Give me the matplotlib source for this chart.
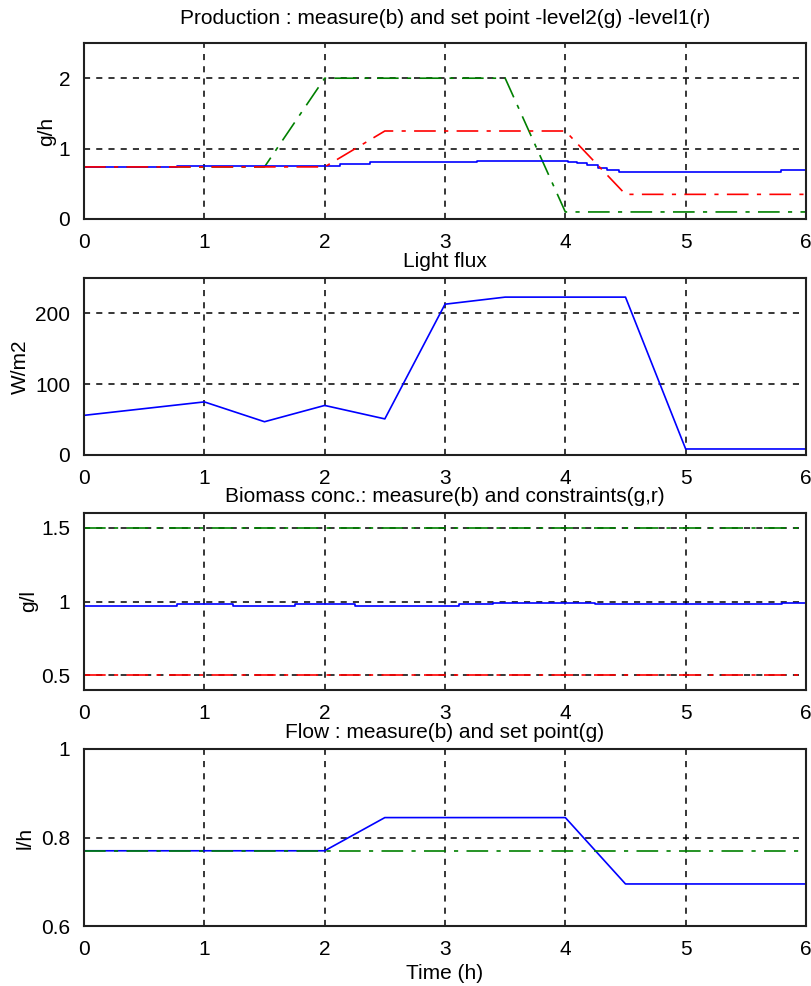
import matplotlib
matplotlib.use("Agg")
import matplotlib.pyplot as plt

plt.rcParams['font.family'] = ['Liberation Sans', 'DejaVu Sans']
plt.rcParams['font.size'] = 15

# ---- Data ----
# Production (g/h)
prod_meas_t = [0, 0.77, 2.13, 2.38, 3.27, 4.02, 4.10, 4.18, 4.27, 4.35, 4.45, 5.79, 6]
prod_meas_y = [0.74, 0.75, 0.78, 0.81, 0.83, 0.81, 0.79, 0.76, 0.73, 0.70, 0.67, 0.69, 0.69]
prod_lvl2_t = [0, 1.5, 2.0, 3.5, 4.0, 6.0]
prod_lvl2_y = [0.74, 0.74, 2.0, 2.0, 0.1, 0.1]
prod_lvl1_t = [0, 2.0, 2.5, 4.0, 4.5, 6.0]
prod_lvl1_y = [0.74, 0.74, 1.25, 1.25, 0.35, 0.35]

# Light flux (W/m2)
light_t = [0, 1, 1.5, 2, 2.5, 3, 3.5, 4, 4.5, 5, 6]
light_y = [56, 75, 47, 70, 51, 213, 223, 223, 223, 8.5, 8.5]

# Biomass conc. (g/l)
bio_t = [0, 0.77, 1.24, 1.75, 2.25, 3.12, 3.40, 4.25, 5.80, 6]
bio_y = [0.968, 0.982, 0.968, 0.980, 0.968, 0.980, 0.993, 0.980, 0.993, 0.993]
bio_max_t = [0, 6]
bio_max_y = [1.5, 1.5]
bio_min_t = [0, 6]
bio_min_y = [0.5, 0.5]

# Flow (l/h)
flow_t = [0, 2.0, 2.5, 4.0, 4.5, 6.0]
flow_y = [0.77, 0.77, 0.845, 0.845, 0.695, 0.695]
flow_sp_t = [0, 6]
flow_sp_y = [0.77, 0.77]

xticks = [0, 1, 2, 3, 4, 5, 6]

titles = ["Production : measure(b) and set point -level2(g) -level1(r)",
          "Light flux",
          "Biomass conc.: measure(b) and constraints(g,r)",
          "Flow : measure(b) and set point(g)"]
ylabels = ["g/h", "W/m2", "g/l", "l/h"]
ylims = [(0, 2.5), (0, 250), (0.4, 1.6), (0.6, 1.0)]
yticks = [[0, 1, 2], [0, 100, 200], [0.5, 1, 1.5], [0.6, 0.8, 1]]
yticklabels = [["0", "1", "2"], ["0", "100", "200"], ["0.5", "1", "1.5"], ["0.6", "0.8", "1"]]

W, H = 811, 986
fig = plt.figure(figsize=(W / 100, H / 100), dpi=100)
fig.patch.set_facecolor('white')

tops = [43, 278, 513, 749]
bots = [219, 455, 690, 926]
left, right = 84, 806
ylabel_x = [47, 20, 29, 25]

blue = '#0000ff'
green = '#008000'
red = '#ff0000'
dashdot = (0, (13, 5, 2.5, 5))
lw = 1.2

axes = []
for i in range(4):
    ax = fig.add_axes([left / W, 1 - bots[i] / H, (right - left) / W, (bots[i] - tops[i]) / H])
    axes.append(ax)

ax = axes[0]
ax.plot(prod_lvl2_t, prod_lvl2_y, color=green, lw=lw, linestyle=dashdot)
ax.plot(prod_meas_t, prod_meas_y, color=blue, lw=lw, drawstyle='steps-post')
ax.plot(prod_lvl1_t, prod_lvl1_y, color=red, lw=lw, linestyle=dashdot)

ax = axes[1]
ax.plot(light_t, light_y, color=blue, lw=lw)

ax = axes[2]
ax.plot(bio_t, bio_y, color=blue, lw=lw, drawstyle='steps-post')
ax.plot(bio_max_t, bio_max_y, color=green, lw=lw, linestyle=dashdot)
ax.plot(bio_min_t, bio_min_y, color=red, lw=lw, linestyle=dashdot)

ax = axes[3]
ax.plot(flow_t, flow_y, color=blue, lw=lw)
ax.plot(flow_sp_t, flow_sp_y, color=green, lw=lw, linestyle=dashdot)

for i, ax in enumerate(axes):
    ax.set_xlim(0, 6)
    ax.set_ylim(*ylims[i])
    ax.set_xticks(xticks)
    ax.set_xticklabels([str(x) for x in xticks])
    ax.set_yticks(yticks[i])
    ax.set_yticklabels(yticklabels[i])
    ax.grid(True, color='black', linestyle=(0, (4, 4)), lw=1.1)
    ax.set_axisbelow(True)
    ax.tick_params(direction='in', length=0, pad=10, labelsize=15)
    ax.tick_params(axis='x', pad=10)
    for s in ax.spines.values():
        s.set_linewidth(1.5)
        s.set_color('#202020')
    ax.set_title(titles[i], fontsize=15, pad=8 if i > 0 else 14)
    ax.set_ylabel(ylabels[i], fontsize=15)
    ax.yaxis.label.set_va('center')
    ax.yaxis.set_label_coords((ylabel_x[i] - left) / (right - left), 0.5)

axes[3].set_xlabel("Time (h)", fontsize=15, labelpad=4)

fig.savefig("out.png", dpi=100)
